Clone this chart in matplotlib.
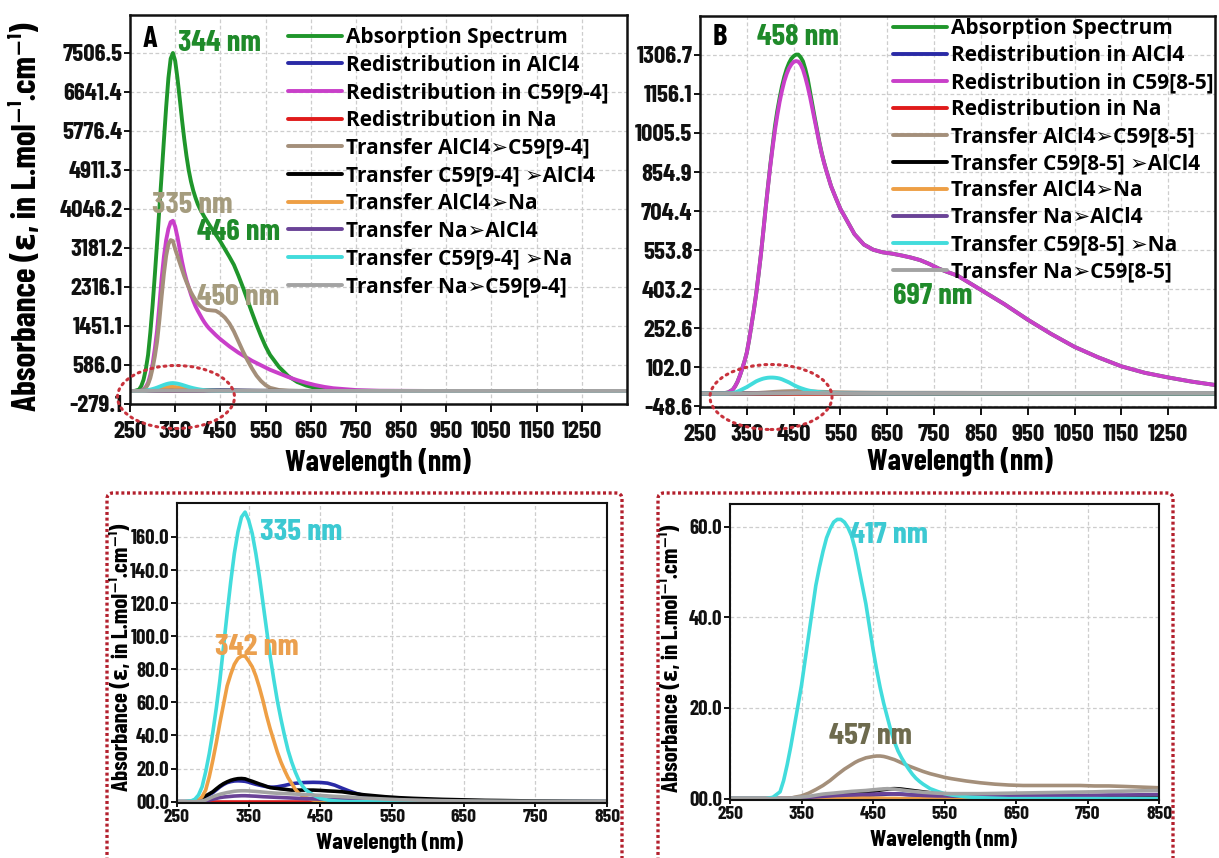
import matplotlib
matplotlib.use("Agg")
import matplotlib.pyplot as plt
from matplotlib import font_manager as fm
from matplotlib.patches import Ellipse, FancyBboxPatch
from matplotlib.transforms import IdentityTransform

# ---------------- data ----------------
series_names_a = ["Absorption Spectrum", "Redistribution in AlCl4", "Redistribution in C59[9-4]",
                  "Redistribution in Na", "Transfer AlCl4\u27a2C59[9-4]", "Transfer C59[9-4] \u27a2AlCl4",
                  "Transfer AlCl4\u27a2Na", "Transfer Na\u27a2AlCl4", "Transfer C59[9-4] \u27a2Na",
                  "Transfer Na\u27a2C59[9-4]"]
series_names_b = ["Absorption Spectrum", "Redistribution in AlCl4", "Redistribution in C59[8-5]",
                  "Redistribution in Na", "Transfer AlCl4\u27a2C59[8-5]", "Transfer C59[8-5] \u27a2AlCl4",
                  "Transfer AlCl4\u27a2Na", "Transfer Na\u27a2AlCl4", "Transfer C59[8-5] \u27a2Na",
                  "Transfer Na\u27a2C59[8-5]"]
colors = ["#1f962b", "#2a2aa6", "#c93fc9", "#e01b1b", "#a48f7a", "#000000",
          "#ee9f45", "#6a4397", "#42dcdc", "#a3a3a3"]

# panel A : C59[9-4]  (epsilon, L/mol/cm)
wl_a = [250, 260, 270, 275, 280, 285, 290, 295, 300, 305, 310, 315, 320, 325, 330, 335, 340, 345,
        350, 355, 360, 365, 370, 375, 380, 385, 390, 395, 400, 405, 410, 415, 420, 425, 430,
        440, 450, 460, 470, 480, 490, 500, 510, 520, 530, 540, 550, 560,
        580, 600, 620, 640, 660, 680, 700, 750, 800, 900, 1000, 1100, 1200, 1350]
absorb_a = [0, 0, 30, 110, 250, 480, 800, 1300, 1900, 2580, 3300, 4050, 4800, 5560, 6300, 6950,
            7380, 7506, 7330, 6950, 6500, 6030, 5600, 5220, 4900, 4650, 4450, 4290, 4150, 4040,
            3950, 3860, 3780, 3700, 3620,
            3470, 3320, 3150, 2980, 2800, 2560, 2300, 2020, 1740, 1470, 1220, 990, 800,
            530, 330, 200, 120, 70, 35, 15, 0, 0, 0, 0, 0, 0, 0]
redis_alcl4_a = [0, 0, 0, 0.1, 0.5, 1.5, 3, 4.2, 5.5, 7.2, 9, 10.4, 11.5, 12.1, 12.5, 12.6, 12.5,
                 12.3, 11.8, 11.1, 10.5, 10, 9.5, 9.1, 8.8, 8.8, 9, 9.4, 9.8, 10.3, 10.8, 11.1,
                 11.3, 11.5, 11.6,
                 11.7, 11.6, 11.2, 10, 8.2, 6.5, 5, 3.8, 2.8, 2, 1.5, 1, 0.7,
                 0.3, 0.1, 0, 0, 0, 0, 0, 0, 0, 0, 0, 0, 0, 0]
redis_c59_a = [0, 0, 0, 5, 30, 90, 180, 360, 600, 940, 1350, 1900, 2500, 2980, 3350, 3600, 3750,
               3780, 3650, 3420, 3150, 2880, 2650, 2460, 2300, 2140, 2000, 1880, 1780, 1690, 1600,
               1520, 1450, 1390, 1340,
               1240, 1150, 1070, 990, 920, 850, 790, 730, 670, 620, 570, 520, 470,
               390, 310, 240, 180, 130, 90, 60, 20, 5, 0, 0, 0, 0, 0]
redis_na_a = [0, 0, 0, 0, 0, 0, 0, 0, 0, 0, 0, 0, 0, 0, 0, 0, 0, 0, 0, 0, 0, 0, 0, 0, 0, 0, 0,
              0, 0, 0, 0, 0, 0, 0, 0, 0, 0, 0, 0, 0, 0, 0, 0, 0, 0, 0, 0, 0, 0, 0, 0, 0, 0, 0,
              0, 0, 0, 0, 0, 0, 0, 0]
tr_alcl4_c59_a = [0, 0, 0, 5, 20, 70, 150, 290, 500, 770, 1100, 1570, 2100, 2600, 3000, 3260,
                  3350, 3330, 3150, 3000, 2850, 2700, 2550, 2420, 2300, 2190, 2100, 2020, 1950,
                  1895, 1850, 1820, 1800, 1795, 1790,
                  1780, 1720, 1630, 1500, 1320, 1100, 880, 680, 500, 340, 220, 130, 70,
                  20, 5, 0, 0, 0, 0, 0, 0, 0, 0, 0, 0, 0, 0]
tr_c59_alcl4_a = [0, 0, 0, 0.3, 1, 2.2, 3.5, 4.7, 6, 7.8, 9.5, 10.9, 12, 12.9, 13.5, 13.9, 14,
                  13.8, 13, 12.3, 11.5, 10.7, 10, 9.2, 8.5, 8.2, 8, 7.7, 7.5, 7.2, 7, 7, 7, 7, 7,
                  7, 6.8, 6.5, 6.3, 6, 5.4, 4.8, 4.2, 3.8, 3.4, 3, 2.7, 2.4,
                  2, 1.7, 1.4, 1.2, 1, 0.8, 0.7, 0.4, 0.2, 0, 0, 0, 0, 0]
tr_alcl4_na_a = [0, 0, 0, 0.2, 1, 3, 7, 15, 25, 36, 48, 59, 70, 77, 83, 86.5, 88, 88, 85, 81.5,
                 76, 69, 61, 52, 44, 37, 30, 24, 19, 14.5, 11, 7.5, 5, 3.5, 2.5,
                 1, 0.5, 0, 0, 0, 0, 0, 0, 0, 0, 0, 0, 0,
                 0, 0, 0, 0, 0, 0, 0, 0, 0, 0, 0, 0, 0, 0]
tr_na_alcl4_a = [0, 0, 0, 0, 0, 0.2, 0.5, 1, 1.5, 2, 2.5, 2.8, 3, 3.2, 3.4, 3.5, 3.6, 3.6, 3.5,
                 3.4, 3.3, 3.15, 3, 2.9, 2.8, 2.7, 2.6, 2.5, 2.4, 2.3, 2.2, 2.1, 2, 1.9, 1.8,
                 1.7, 1.5, 1.4, 1.2, 1.1, 1, 0.9, 0.8, 0.7, 0.6, 0.5, 0.4, 0.3,
                 0.2, 0.1, 0, 0, 0, 0, 0, 0, 0, 0, 0, 0, 0, 0]
tr_c59_na_a = [0, 0, 0.5, 1.5, 4, 9, 18, 29, 42, 57, 74, 94, 114, 133, 150, 163, 172, 175, 170,
               162, 150, 136, 120, 104, 88, 74, 61, 50, 40, 31, 24, 18, 13, 9.5, 7,
               4, 2, 1, 0.5, 0.2, 0, 0, 0, 0, 0, 0, 0, 0,
               0, 0, 0, 0, 0, 0, 0, 0, 0, 0, 0, 0, 0, 0]
tr_na_c59_a = [0, 0, 0, 0, 0, 0.4, 1, 2, 3, 3.8, 4.5, 5, 5.5, 5.9, 6.3, 6.5, 6.6, 6.6, 6.5, 6.35,
               6.2, 6, 5.8, 5.6, 5.4, 5.25, 5.1, 5, 4.9, 4.8, 4.7, 4.6, 4.5, 4.4, 4.3,
               4, 3.8, 3.5, 3.2, 3, 2.8, 2.5, 2.2, 2, 1.8, 1.6, 1.4, 1.2,
               1, 0.8, 0.6, 0.5, 0.4, 0.3, 0.2, 0.1, 0, 0, 0, 0, 0, 0]

# panel B : C59[8-5]
wl_b = [250, 260, 270, 280, 290, 300, 310,
        320, 325, 330, 335, 340, 345, 350, 355, 360, 365, 370, 375, 380, 385, 390, 395, 400, 405,
        410, 415, 420, 425, 430, 435, 440, 445, 450, 455, 460, 465, 470, 475, 480, 485, 490, 495,
        500, 505, 510, 515, 520,
        530, 540, 550, 560,
        580, 600, 620, 640, 660, 680, 700, 720, 740, 760, 780, 800,
        850, 900, 950, 1000, 1050, 1100, 1150, 1200, 1250, 1300, 1350]
absorb_b = [0, 0, 0, 0, 0, 1, 4,
            15, 28, 45, 68, 95, 124, 158, 208, 265, 322, 385, 458, 535, 622, 712, 797, 880, 955,
            1030, 1090, 1140, 1185, 1222, 1252, 1275, 1292, 1302, 1308, 1308, 1298, 1282, 1252,
            1215, 1165, 1115, 1065, 1018, 970, 928, 892, 860,
            800, 755, 712, 680,
            615, 575, 555, 545, 540, 533, 525, 515, 500, 482, 468, 455,
            400, 345, 285, 230, 180, 140, 105, 80, 62, 46, 33]
redis_alcl4_b = [0, 0, 0, 0, 0, 0, 0,
                 0, 0, 0, 0, 0, 0, 0, 0.05, 0.1, 0.12, 0.15, 0.17, 0.2, 0.22, 0.25, 0.3, 0.35,
                 0.4, 0.45, 0.48, 0.5, 0.55, 0.6, 0.65, 0.7, 0.75, 0.8, 0.85, 0.9, 0.95, 1, 1.03,
                 1.05, 1.03, 1, 0.95, 0.9, 0.85, 0.8, 0.75, 0.7,
                 0.6, 0.55, 0.5, 0.45,
                 0.4, 0.35, 0.35, 0.35, 0.35, 0.35, 0.35, 0.3, 0.3, 0.3, 0.3, 0.3,
                 0.25, 0.25, 0.25, 0.2, 0.2, 0.2, 0.15, 0.15, 0.15, 0.1, 0.1]
redis_c59_b = [0, 0, 0, 0, 0, 1, 4,
               15, 28, 45, 68, 95, 124, 158, 208, 265, 322, 385, 458, 535, 622, 710, 795, 875, 948,
               1015, 1073, 1125, 1168, 1205, 1233, 1255, 1270, 1280, 1283, 1281, 1270, 1250, 1220,
               1185, 1145, 1100, 1055, 1010, 966, 925, 890, 858,
               800, 755, 712, 680,
               615, 575, 555, 545, 540, 533, 525, 515, 500, 482, 468, 455,
               400, 345, 285, 230, 180, 140, 105, 80, 62, 46, 33]
redis_na_b = [0, 0, 0, 0, 0, 0, 0, 0, 0, 0, 0, 0, 0, 0, 0, 0, 0, 0, 0, 0, 0, 0, 0, 0, 0, 0, 0,
              0, 0, 0, 0, 0, 0, 0, 0, 0, 0, 0, 0, 0, 0, 0, 0, 0, 0, 0, 0, 0, 0, 0, 0, 0, 0, 0,
              0, 0, 0, 0, 0, 0, 0, 0, 0, 0, 0, 0, 0, 0, 0, 0, 0, 0, 0, 0, 0]
tr_alcl4_c59_b = [0, 0, 0, 0, 0, 0, 0,
                  0, 0, 0, 0.1, 0.3, 0.45, 0.6, 0.9, 1.2, 1.6, 2, 2.45, 2.9, 3.45, 4, 4.65, 5.3,
                  5.9, 6.5, 7, 7.5, 8, 8.4, 8.7, 9, 9.15, 9.3, 9.4, 9.4, 9.3, 9.1, 8.85, 8.6,
                  8.25, 7.9, 7.55, 7.2, 6.9, 6.6, 6.3, 6,
                  5.5, 5.1, 4.7, 4.4,
                  3.9, 3.5, 3.2, 3, 2.9, 2.9, 2.9, 2.9, 2.9, 2.8, 2.8, 2.7,
                  2.4, 2.2, 2, 1.8, 1.6, 1.4, 1.2, 1.1, 1, 0.9, 0.8]
tr_c59_alcl4_b = [0, 0, 0, 0, 0, 0, 0,
                  0, 0, 0, 0, 0, 0.05, 0.1, 0.15, 0.2, 0.25, 0.3, 0.35, 0.4, 0.45, 0.5, 0.6, 0.7,
                  0.78, 0.85, 0.92, 1, 1.1, 1.2, 1.3, 1.4, 1.5, 1.6, 1.75, 1.9, 2, 2.1, 2.17,
                  2.2, 2.17, 2.1, 2, 1.9, 1.8, 1.7, 1.6, 1.5,
                  1.3, 1.1, 1, 0.9,
                  0.8, 0.7, 0.7, 0.7, 0.7, 0.7, 0.7, 0.65, 0.65, 0.6, 0.6, 0.6,
                  0.55, 0.5, 0.5, 0.45, 0.4, 0.4, 0.35, 0.3, 0.3, 0.25, 0.2]
tr_alcl4_na_b = [0, 0, 0, 0, 0, 0, 0,
                 0, 0, 0.05, 0.08, 0.1, 0.12, 0.15, 0.18, 0.2, 0.22, 0.25, 0.28, 0.3, 0.3, 0.3,
                 0.3, 0.3, 0.3, 0.3, 0.28, 0.25, 0.22, 0.2, 0.18, 0.15, 0.12, 0.1, 0.1, 0.1, 0.08,
                 0.05, 0.05, 0.05, 0.03, 0, 0, 0, 0, 0, 0, 0,
                 0, 0, 0, 0,
                 0, 0, 0, 0, 0, 0, 0, 0, 0, 0, 0, 0,
                 0, 0, 0, 0, 0, 0, 0, 0, 0, 0, 0]
tr_na_alcl4_b = [0, 0, 0, 0, 0, 0, 0,
                 0, 0, 0, 0.05, 0.1, 0.15, 0.2, 0.25, 0.3, 0.35, 0.4, 0.45, 0.5, 0.55, 0.6, 0.65,
                 0.7, 0.72, 0.75, 0.78, 0.8, 0.82, 0.85, 0.88, 0.9, 0.95, 1, 1.02, 1.05, 1.08, 1.1,
                 1.08, 1.05, 1, 0.95, 0.9, 0.85, 0.82, 0.8, 0.75, 0.7,
                 0.65, 0.6, 0.6, 0.55,
                 0.55, 0.55, 0.6, 0.6, 0.6, 0.65, 0.65, 0.7, 0.7, 0.75, 0.8, 0.8,
                 0.9, 0.9, 0.95, 1, 1, 1, 1, 1, 1, 1, 1]
tr_c59_na_b = [0, 0, 0, 0, 0, 0, 0.3,
               1.5, 4, 7.5, 11.5, 16, 20.5, 25, 30.5, 36, 41.5, 47, 51, 54.5, 57.5, 59.5, 61, 61.6,
               61.6, 61, 59.8, 58, 55, 51, 47, 43, 38, 33, 28.5, 24.5, 21, 18, 15, 12.5, 10.5, 9,
               7.7, 6.5, 5.4, 4.5, 3.8, 3.2,
               2.2, 1.6, 1.1, 0.8,
               0.4, 0.2, 0.1, 0, 0, 0, 0, 0, 0, 0, 0, 0,
               0, 0, 0, 0, 0, 0, 0, 0, 0, 0, 0]
tr_na_c59_b = [0, 0, 0, 0, 0, 0, 0,
               0, 0.05, 0.1, 0.15, 0.2, 0.27, 0.35, 0.42, 0.5, 0.62, 0.75, 0.88, 1, 1.08, 1.15,
               1.22, 1.3, 1.38, 1.45, 1.52, 1.6, 1.65, 1.7, 1.75, 1.8, 1.88, 1.95, 2.02, 2.1,
               2.15, 2.2, 2.15, 2.1, 2, 1.9, 1.8, 1.7, 1.62, 1.55, 1.48, 1.4,
               1.3, 1.2, 1.15, 1.1,
               1.1, 1.1, 1.15, 1.2, 1.25, 1.3, 1.35, 1.4, 1.45, 1.5, 1.6, 1.65,
               1.8, 1.85, 1.9, 1.95, 2, 2, 2, 2, 2, 2, 2]

yticks_a = [-279.1, 586.0, 1451.1, 2316.1, 3181.2, 4046.2, 4911.3, 5776.4, 6641.4, 7506.5]
yticks_b = [-48.6, 102.0, 252.6, 403.2, 553.8, 704.4, 854.9, 1005.5, 1156.1, 1306.7]
xticks_top = [250, 350, 450, 550, 650, 750, 850, 950, 1050, 1150, 1250]
xticks_zoom = [250, 350, 450, 550, 650, 750, 850]
yticks_zl = [0, 20, 40, 60, 80, 100, 120, 140, 160]
yticks_zr = [0, 20, 40, 60]

series_a = [absorb_a, redis_alcl4_a, redis_c59_a, redis_na_a, tr_alcl4_c59_a, tr_c59_alcl4_a,
            tr_alcl4_na_a, tr_na_alcl4_a, tr_c59_na_a, tr_na_c59_a]
series_b = [absorb_b, redis_alcl4_b, redis_c59_b, redis_na_b, tr_alcl4_c59_b, tr_c59_alcl4_b,
            tr_alcl4_na_b, tr_na_alcl4_b, tr_c59_na_b, tr_na_c59_b]

# ---------------- fonts ----------------
names = {f.name for f in fm.fontManager.ttflist}
narrow_pref = ["Barlow Condensed", "Saira Condensed", "Roboto Condensed", "Oswald",
               "Pathway Gothic One", "Fjalla One", "Liberation Sans Narrow"]
NARROW = next((n for n in narrow_pref if n in names), "DejaVu Sans")
COND = [NARROW, "DejaVu Sans"]
LEG = ["Open Sans", "DejaVu Sans"]

W, H = 1219, 858
fig = plt.figure(figsize=(W / 100, H / 100), dpi=100)


def axes_px(x0, y0, x1, y1):
    return fig.add_axes([x0 / W, 1 - y1 / H, (x1 - x0) / W, (y1 - y0) / H])


def style(ax, xlim, ylim, xt, yt, ylabels, xsize, ysize, spw, xlen, xpad):
    ax.set_xlim(*xlim)
    ax.set_ylim(*ylim)
    ax.set_xticks(xt)
    ax.set_yticks(yt)
    ax.set_yticklabels(ylabels)
    ax.grid(True, color="#cdcdcd", linestyle=(0, (3, 2)), linewidth=0.9)
    ax.set_axisbelow(True)
    for s in ax.spines.values():
        s.set_linewidth(spw)
        s.set_color("#111111")
    ax.tick_params(axis="y", length=4, width=1.4, pad=1.5, colors="#111111")
    ax.tick_params(axis="x", length=xlen, width=1.4, pad=xpad, colors="#111111")
    for lab in ax.get_xticklabels():
        lab.set_fontfamily(COND)
        lab.set_fontweight("bold")
        lab.set_fontsize(xsize)
    for lab in ax.get_yticklabels():
        lab.set_fontfamily(COND)
        lab.set_fontweight("bold")
        lab.set_fontsize(ysize)


def put(ax, items, size):
    for t, x, y, c in items:
        ax.text(x, y, t, transform=ax.transAxes, color=c, fontsize=size, fontfamily=COND,
                fontweight="bold", ha="left", va="center")


ylabel = "Absorbance (\u03b5, in L.mol\u207b\u00b9.cm\u207b\u00b9)"
leg_kw = dict(loc="upper left", bbox_transform=fig.transFigure, frameon=False,
              prop={"family": LEG, "weight": "bold", "size": 15},
              handlelength=2.6, handletextpad=0.2, borderpad=0, borderaxespad=0)

# ---------------- panel A ----------------
axA = axes_px(130, 15, 627, 404)
for ys, c, n in zip(series_a, colors, series_names_a):
    axA.plot(wl_a, ys, color=c, lw=2.8, label=n, solid_capstyle="round")
style(axA, (250, 1350), (-290, 8350), xticks_top, yticks_a, [f"{v:.1f}" for v in yticks_a],
      18, 18, 1.8, 5.5, 7)
axA.set_ylabel(ylabel, fontfamily=COND, fontweight="bold", fontsize=24)
axA.yaxis.set_label_coords(-0.177, 0.48)
axA.set_xlabel("Wavelength (nm)", fontfamily=COND, fontweight="bold", fontsize=21.5)
axA.xaxis.set_label_coords(0.499, -0.112)
axA.legend(bbox_to_anchor=(288 / W, 1 - 27 / H), labelspacing=0.32, **leg_kw)
axA.text(0.026, 0.936, "A", transform=axA.transAxes, fontsize=22, fontfamily=COND,
         fontweight="bold", ha="left", va="center")
put(axA, [("344 nm", 0.097, 0.928, "#1f8a2a"), ("335 nm", 0.044, 0.510, "#a59c7e"),
          ("446 nm", 0.135, 0.441, "#1f8a2a"), ("450 nm", 0.135, 0.273, "#a59c7e")], 22)

# ---------------- panel B ----------------
axB = axes_px(700, 16, 1215, 407)
for ys, c, n in zip(series_b, colors, series_names_b):
    axB.plot(wl_b, ys, color=c, lw=2.8, label=n, solid_capstyle="round")
style(axB, (250, 1350), (-52, 1457), xticks_top, yticks_b, [f"{v:.1f}" for v in yticks_b],
      18, 18, 1.8, 5.5, 7)
axB.set_xlabel("Wavelength (nm)", fontfamily=COND, fontweight="bold", fontsize=21.5)
axB.xaxis.set_label_coords(0.505, -0.1)
axB.legend(bbox_to_anchor=(893 / W, 1 - 18 / H), labelspacing=0.29, **leg_kw)
axB.text(0.025, 0.944, "B", transform=axB.transAxes, fontsize=22, fontfamily=COND,
         fontweight="bold", ha="left", va="center")
put(axB, [("458 nm", 0.111, 0.946, "#1f8a2a"), ("697 nm", 0.375, 0.283, "#1f8a2a")], 22)

# ---------------- zoomed panels ----------------
axL = axes_px(177, 503, 607, 803)
for i in [1, 3, 5, 6, 7, 8, 9]:
    axL.plot(wl_a, series_a[i], color=colors[i], lw=2.6)
style(axL, (250, 850), (-0.8, 180.5), xticks_zoom, yticks_zl,
      [f"{v:04.1f}" for v in yticks_zl], 14, 15, 1.5, 3, 1)
axL.set_ylabel(ylabel, fontfamily=COND, fontweight="bold", fontsize=16.5)
axL.yaxis.set_label_coords(-0.105, 0.487)
axL.set_xlabel("Wavelength (nm)", fontfamily=COND, fontweight="bold", fontsize=17)
axL.xaxis.set_label_coords(0.495, -0.094)
put(axL, [("335 nm", 0.193, 0.903, "#3cc9d2"), ("342 nm", 0.088, 0.517, "#eba04f")], 22.5)

axR = axes_px(730, 504, 1159, 800)
for i in [1, 3, 4, 5, 6, 7, 8, 9]:
    axR.plot(wl_b, series_b[i], color=colors[i], lw=2.6)
style(axR, (250, 850), (-0.3, 65), xticks_zoom, yticks_zr,
      [f"{v:04.1f}" for v in yticks_zr], 14, 15, 1.5, 3, 1)
axR.set_ylabel(ylabel, fontfamily=COND, fontweight="bold", fontsize=16.5)
axR.yaxis.set_label_coords(-0.112, 0.48)
axR.set_xlabel("Wavelength (nm)", fontfamily=COND, fontweight="bold", fontsize=17)
axR.xaxis.set_label_coords(0.497, -0.096)
put(axR, [("417 nm", 0.28, 0.895, "#3cc9d2"), ("457 nm", 0.231, 0.216, "#6e6b4e")], 22.5)

# ---------------- red dotted highlights ----------------
px = IdentityTransform()
for cx, cy, w, h in [(176, 397, 117, 63), (771, 397, 122, 65)]:
    e = Ellipse((cx, H - cy), w, h, transform=px, fill=False, edgecolor="#c8323c",
                linewidth=2.2, linestyle=(0, (0.6, 1.6)), capstyle="round", zorder=20)
    fig.patches.append(e)
for x0, x1 in [(107, 622), (658, 1173)]:
    b = FancyBboxPatch((x0, -30), x1 - x0, H - 493 + 30, boxstyle="round,pad=0,rounding_size=6",
                       transform=px, fill=False, edgecolor="#b3202d", linewidth=2.4,
                       linestyle=(0, (0.9, 0.8)), zorder=20)
    fig.patches.append(b)

fig.savefig("out.png", dpi=100)
